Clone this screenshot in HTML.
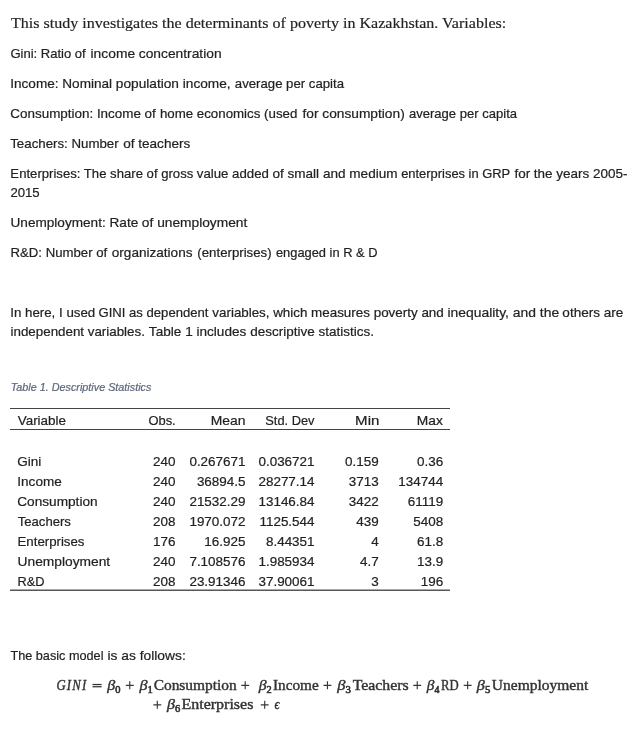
<!DOCTYPE html>
<html><head><meta charset="utf-8"><title>Determinants of poverty in Kazakhstan</title>
<style>
html,body{margin:0;padding:0;background:#fff;}
body{width:642px;height:744px;position:relative;overflow:hidden;color:#222;}
#pg{position:absolute;left:0;top:0;width:642px;height:744px;will-change:transform;}
.t{position:absolute;left:0;white-space:nowrap;line-height:20px;height:20px;transform-origin:0 0;}
.wc{will-change:transform;}
.sans{font-family:"Liberation Sans", sans-serif;font-size:13px;-webkit-text-stroke:0.2px currentColor;}
.serif{font-family:"Liberation Serif", serif;font-size:16px;}
.s1{font-size:15.6px;-webkit-text-stroke:0.18px currentColor;}
.cap{font-size:10px;font-style:italic;color:#5b677c;-webkit-text-stroke:0.2px currentColor;}
.eq{font-size:14.5px;color:#333;-webkit-text-stroke:0.4px currentColor;}
.eq i{font-style:italic;}
.sb{font-size:9.5px;-webkit-text-stroke:0.6px currentColor;position:relative;top:2.6px;font-style:normal;}
.hl{position:absolute;left:10px;width:440.4px;height:1px;background:#444;}

</style></head><body><div id="pg">
<div class="t serif s1" id="l1" style="top:13px;transform:translateX(10.99px) scaleX(1.0290);">This study investigates the determinants of poverty in Kazakhstan. Variables:</div>
<div class="t sans" id="l2a" style="top:44px;transform:translateX(10.38px) scaleX(1.0024);">Gini: Ratio of</div>
<div class="t sans" id="l2b" style="top:44px;transform:translateX(90.55px) scaleX(1.0631);">income</div>
<div class="t sans" id="l2c" style="top:44px;transform:translateX(138.78px) scaleX(1.0607);">concentration</div>
<div class="t sans" id="l3a" style="top:74px;transform:translateX(10.26px) scaleX(1.0437);">Income: Nominal</div>
<div class="t sans" id="l3b" style="top:74px;transform:translateX(115.84px) scaleX(1.0517);">population income,</div>
<div class="t sans" id="l3c" style="top:74px;transform:translateX(234.84px) scaleX(1.0137);">average per capita</div>
<div class="t sans" id="l4a" style="top:104px;transform:translateX(10.36px) scaleX(1.0323);">Consumption: Income of</div>
<div class="t sans" id="l4b" style="top:104px;transform:translateX(159.88px) scaleX(1.0226);">home economics (used</div>
<div class="t sans" id="l4c" style="top:104px;transform:translateX(302.43px) scaleX(1.0565);">for consumption)</div>
<div class="t sans" id="l4d" style="top:104px;transform:translateX(408.94px) scaleX(1.0040);">average per capita</div>
<div class="t sans" id="l5a" style="top:134px;transform:translateX(10.24px) scaleX(1.0206);">Teachers: Number</div>
<div class="t sans" id="l5b" style="top:134px;transform:translateX(123.16px) scaleX(1.0439);">of teachers</div>
<div class="t sans" id="l6a" style="top:164px;transform:translateX(10.37px) scaleX(1.0100);">Enterprises: The share of gross</div>
<div class="t sans" id="l6b" style="top:164px;transform:translateX(196.81px) scaleX(1.0179);">value added</div>
<div class="t sans" id="l6c" style="top:164px;transform:translateX(272.42px) scaleX(1.0430);">of small and medium</div>
<div class="t sans" id="l6d" style="top:164px;transform:translateX(401.17px) scaleX(0.9930);">enterprises in GRP</div>
<div class="t sans" id="l6e" style="top:164px;transform:translateX(514.42px) scaleX(1.0356);">for the years 2005-</div>
<div class="t sans" id="l7" style="top:183px;transform:translateX(10.38px) scaleX(1.0134);">2015</div>
<div class="t sans" id="l8a" style="top:213px;transform:translateX(10.49px) scaleX(1.0463);">Unemployment: Rate</div>
<div class="t sans" id="l8b" style="top:213px;transform:translateX(141.87px) scaleX(1.0572);">of unemployment</div>
<div class="t sans" id="l9a" style="top:243px;transform:translateX(10.51px) scaleX(1.0142);">R&amp;D: Number of</div>
<div class="t sans" id="l9b" style="top:243px;transform:translateX(111.78px) scaleX(1.0438);">organizations</div>
<div class="t sans" id="l9c" style="top:243px;transform:translateX(197.33px) scaleX(1.0179);">(enterprises)</div>
<div class="t sans" id="l9d" style="top:243px;transform:translateX(275.92px) scaleX(0.9893);">engaged in R &amp; D</div>
<div class="t sans" id="l10a" style="top:303px;transform:translateX(10.25px) scaleX(1.0222);">In here, I used</div>
<div class="t sans" id="l10b" style="top:303px;transform:translateX(98.55px) scaleX(1.0069);">GINI as dependent</div>
<div class="t sans" id="l10c" style="top:303px;transform:translateX(212.37px) scaleX(1.0269);">variables, which</div>
<div class="t sans" id="l10d" style="top:303px;transform:translateX(311.02px) scaleX(1.0323);">measures poverty and</div>
<div class="t sans" id="l10e" style="top:303px;transform:translateX(447.46px) scaleX(1.0683);">inequality, and the</div>
<div class="t sans" id="l10f" style="top:303px;transform:translateX(562.35px) scaleX(1.0423);">others are</div>
<div class="t sans" id="l11a" style="top:322px;transform:translateX(10.53px) scaleX(1.0271);">independent variables.</div>
<div class="t sans" id="l11b" style="top:322px;transform:translateX(148.87px) scaleX(1.0454);">Table 1 includes</div>
<div class="t sans" id="l11c" style="top:322px;transform:translateX(250.14px) scaleX(1.0381);">descriptive statistics.</div>
<div class="t sans" id="l12a" style="top:646px;transform:translateX(10.47px) scaleX(0.9748);">The basic model</div>
<div class="t sans" id="l12b" style="top:646px;transform:translateX(107.46px) scaleX(1.0621);">is as follows:</div>
<div class="t sans cap" id="cap" style="top:378px;transform:translateX(10.67px) scaleX(1.0803);">Table 1. Descriptive Statistics</div>
<div class="t serif eq" id="e1" style="top:675px;transform:translateX(56.47px) scaleX(0.8757);"><i style="letter-spacing:1.4px">GINI</i></div>
<div class="t serif eq" id="e3" style="top:675px;transform:translateX(107.36px) scaleX(1.0988);"><i>&beta;</i><span class="sb">0</span></div>
<div class="t serif eq" id="e5" style="top:675px;transform:translateX(139.39px) scaleX(1.1080);"><i>&beta;</i><span class="sb">1</span></div>
<div class="t serif eq" id="e6" style="top:675px;transform:translateX(153.63px) scaleX(1.0642);">Consumption</div>
<div class="t serif eq" id="e8" style="top:675px;transform:translateX(258.68px) scaleX(1.0847);"><i>&beta;</i><span class="sb">2</span></div>
<div class="t serif eq" id="e9" style="top:675px;transform:translateX(272.93px) scaleX(1.0531);">Income</div>
<div class="t serif eq" id="e11" style="top:675px;transform:translateX(337.23px) scaleX(1.1319);"><i>&beta;</i><span class="sb">3</span></div>
<div class="t serif eq" id="e12" style="top:675px;transform:translateX(352.64px) scaleX(1.0902);">Teachers</div>
<div class="t serif eq" id="e14" style="top:675px;transform:translateX(426.83px) scaleX(1.0531);"><i>&beta;</i><span class="sb">4</span></div>
<div class="t serif eq" id="e15" style="top:675px;transform:translateX(440.91px) scaleX(0.8766);">RD</div>
<div class="t serif eq" id="e17" style="top:675px;transform:translateX(476.84px) scaleX(1.1192);"><i>&beta;</i><span class="sb">5</span></div>
<div class="t serif eq" id="e18" style="top:675px;transform:translateX(491.84px) scaleX(1.0695);">Unemployment</div>
<div class="t serif eq" id="f2" style="top:694px;transform:translateX(167.03px) scaleX(1.1026);"><i>&beta;</i><span class="sb">6</span></div>
<div class="t serif eq" id="f3" style="top:694px;transform:translateX(181.42px) scaleX(1.1034);">Enterprises</div>
<div class="t serif eq" id="f5" style="top:694px;transform:translateX(274.41px) scaleX(0.8600);"><i>&#x3f5;</i></div>
<div class="t sans" id="c0_0" style="top:411px;transform:translateX(17.69px) scaleX(1.0342);">Variable</div>
<div class="t sans" id="c0_1" style="top:411px;transform:translateX(148.43px) scaleX(0.9930);">Obs.</div>
<div class="t sans" id="c0_2" style="top:411px;transform:translateX(210.75px) scaleX(1.0689);">Mean</div>
<div class="t sans" id="c0_3" style="top:411px;transform:translateX(265.31px) scaleX(0.9863);">Std. Dev</div>
<div class="t sans" id="c0_4" style="top:411px;transform:translateX(355.10px) scaleX(1.1571);">Min</div>
<div class="t sans" id="c0_5" style="top:411px;transform:translateX(416.85px) scaleX(1.0593);">Max</div>
<div class="t sans" id="c1_0" style="top:452px;transform:translateX(17.26px) scaleX(1.0419);">Gini</div>
<div class="t sans" id="c1_1" style="top:452px;width:175px;text-align:right;transform-origin:100% 0;transform:translateX(0.48px) scaleX(1.0340);">240</div>
<div class="t sans" id="c1_2" style="top:452px;width:245px;text-align:right;transform-origin:100% 0;transform:translateX(0.48px) scaleX(1.0340);">0.267671</div>
<div class="t sans" id="c1_3" style="top:452px;width:314px;text-align:right;transform-origin:100% 0;transform:translateX(0.54px) scaleX(1.0340);">0.036721</div>
<div class="t sans" id="c1_4" style="top:452px;width:378px;text-align:right;transform-origin:100% 0;transform:translateX(0.68px) scaleX(1.0340);">0.159</div>
<div class="t sans" id="c1_5" style="top:452px;width:443px;text-align:right;transform-origin:100% 0;transform:translateX(0.20px) scaleX(1.0340);">0.36</div>
<div class="t sans" id="c2_0" style="top:472px;transform:translateX(17.31px) scaleX(1.0422);">Income</div>
<div class="t sans" id="c2_1" style="top:472px;width:175px;text-align:right;transform-origin:100% 0;transform:translateX(0.48px) scaleX(1.0340);">240</div>
<div class="t sans" id="c2_2" style="top:472px;width:245px;text-align:right;transform-origin:100% 0;transform:translateX(0.48px) scaleX(1.0340);">36894.5</div>
<div class="t sans" id="c2_3" style="top:472px;width:314px;text-align:right;transform-origin:100% 0;transform:translateX(0.54px) scaleX(1.0340);">28277.14</div>
<div class="t sans" id="c2_4" style="top:472px;width:378px;text-align:right;transform-origin:100% 0;transform:translateX(0.68px) scaleX(1.0340);">3713</div>
<div class="t sans" id="c2_5" style="top:472px;width:443px;text-align:right;transform-origin:100% 0;transform:translateX(0.20px) scaleX(1.0340);">134744</div>
<div class="t sans" id="c3_0" style="top:492px;transform:translateX(17.27px) scaleX(1.0486);">Consumption</div>
<div class="t sans" id="c3_1" style="top:492px;width:175px;text-align:right;transform-origin:100% 0;transform:translateX(0.48px) scaleX(1.0340);">240</div>
<div class="t sans" id="c3_2" style="top:492px;width:245px;text-align:right;transform-origin:100% 0;transform:translateX(0.48px) scaleX(1.0340);">21532.29</div>
<div class="t sans" id="c3_3" style="top:492px;width:314px;text-align:right;transform-origin:100% 0;transform:translateX(0.54px) scaleX(1.0340);">13146.84</div>
<div class="t sans" id="c3_4" style="top:492px;width:378px;text-align:right;transform-origin:100% 0;transform:translateX(0.68px) scaleX(1.0340);">3422</div>
<div class="t sans" id="c3_5" style="top:492px;width:443px;text-align:right;transform-origin:100% 0;transform:translateX(0.20px) scaleX(1.0340);">61119</div>
<div class="t sans" id="c4_0" style="top:512px;transform:translateX(17.65px) scaleX(1.0098);">Teachers</div>
<div class="t sans" id="c4_1" style="top:512px;width:175px;text-align:right;transform-origin:100% 0;transform:translateX(0.48px) scaleX(1.0340);">208</div>
<div class="t sans" id="c4_2" style="top:512px;width:245px;text-align:right;transform-origin:100% 0;transform:translateX(0.48px) scaleX(1.0340);">1970.072</div>
<div class="t sans" id="c4_3" style="top:512px;width:314px;text-align:right;transform-origin:100% 0;transform:translateX(0.54px) scaleX(1.0340);">1125.544</div>
<div class="t sans" id="c4_4" style="top:512px;width:378px;text-align:right;transform-origin:100% 0;transform:translateX(0.68px) scaleX(1.0340);">439</div>
<div class="t sans" id="c4_5" style="top:512px;width:443px;text-align:right;transform-origin:100% 0;transform:translateX(0.20px) scaleX(1.0340);">5408</div>
<div class="t sans" id="c5_0" style="top:532px;transform:translateX(17.51px) scaleX(1.0181);">Enterprises</div>
<div class="t sans" id="c5_1" style="top:532px;width:175px;text-align:right;transform-origin:100% 0;transform:translateX(0.48px) scaleX(1.0340);">176</div>
<div class="t sans" id="c5_2" style="top:532px;width:245px;text-align:right;transform-origin:100% 0;transform:translateX(0.48px) scaleX(1.0340);">16.925</div>
<div class="t sans" id="c5_3" style="top:532px;width:314px;text-align:right;transform-origin:100% 0;transform:translateX(0.54px) scaleX(1.0340);">8.44351</div>
<div class="t sans" id="c5_4" style="top:532px;width:378px;text-align:right;transform-origin:100% 0;transform:translateX(0.68px) scaleX(1.0340);">4</div>
<div class="t sans" id="c5_5" style="top:532px;width:443px;text-align:right;transform-origin:100% 0;transform:translateX(0.20px) scaleX(1.0340);">61.8</div>
<div class="t sans" id="c6_0" style="top:552px;transform:translateX(17.52px) scaleX(1.0599);">Unemployment</div>
<div class="t sans" id="c6_1" style="top:552px;width:175px;text-align:right;transform-origin:100% 0;transform:translateX(0.48px) scaleX(1.0340);">240</div>
<div class="t sans" id="c6_2" style="top:552px;width:245px;text-align:right;transform-origin:100% 0;transform:translateX(0.48px) scaleX(1.0340);">7.108576</div>
<div class="t sans" id="c6_3" style="top:552px;width:314px;text-align:right;transform-origin:100% 0;transform:translateX(0.54px) scaleX(1.0340);">1.985934</div>
<div class="t sans" id="c6_4" style="top:552px;width:378px;text-align:right;transform-origin:100% 0;transform:translateX(0.68px) scaleX(1.0340);">4.7</div>
<div class="t sans" id="c6_5" style="top:552px;width:443px;text-align:right;transform-origin:100% 0;transform:translateX(0.20px) scaleX(1.0340);">13.9</div>
<div class="t sans" id="c7_0" style="top:572px;transform:translateX(17.55px) scaleX(0.9836);">R&amp;D</div>
<div class="t sans" id="c7_1" style="top:572px;width:175px;text-align:right;transform-origin:100% 0;transform:translateX(0.48px) scaleX(1.0340);">208</div>
<div class="t sans" id="c7_2" style="top:572px;width:245px;text-align:right;transform-origin:100% 0;transform:translateX(0.48px) scaleX(1.0340);">23.91346</div>
<div class="t sans" id="c7_3" style="top:572px;width:314px;text-align:right;transform-origin:100% 0;transform:translateX(0.54px) scaleX(1.0340);">37.90061</div>
<div class="t sans" id="c7_4" style="top:572px;width:378px;text-align:right;transform-origin:100% 0;transform:translateX(0.68px) scaleX(1.0340);">3</div>
<div class="t sans" id="c7_5" style="top:572px;width:443px;text-align:right;transform-origin:100% 0;transform:translateX(0.20px) scaleX(1.0340);">196</div>
<svg class="eqs" width="12" height="6" viewBox="0 0 12 6" style="position:absolute;left:91px;top:682px;"><rect x="1.5" y="1.9" width="9.1" height="1.25" fill="#333"/><rect x="1.5" y="4.1" width="9.1" height="1.25" fill="#333"/></svg>
<svg width="12" height="12" viewBox="0 0 12 12" style="position:absolute;left:123px;top:679px;"><path d="M2.80 6.30h7.90M6.75 2.35v7.90" stroke="#383838" stroke-width="1.15" fill="none"/></svg>
<svg width="12" height="12" viewBox="0 0 12 12" style="position:absolute;left:239px;top:679px;"><path d="M2.25 6.30h7.90M6.20 2.35v7.90" stroke="#383838" stroke-width="1.15" fill="none"/></svg>
<svg width="12" height="12" viewBox="0 0 12 12" style="position:absolute;left:321px;top:679px;"><path d="M2.50 6.30h7.90M6.45 2.35v7.90" stroke="#383838" stroke-width="1.15" fill="none"/></svg>
<svg width="12" height="12" viewBox="0 0 12 12" style="position:absolute;left:411px;top:679px;"><path d="M2.30 6.30h7.90M6.25 2.35v7.90" stroke="#383838" stroke-width="1.15" fill="none"/></svg>
<svg width="12" height="12" viewBox="0 0 12 12" style="position:absolute;left:461px;top:679px;"><path d="M2.70 6.30h7.90M6.65 2.35v7.90" stroke="#383838" stroke-width="1.15" fill="none"/></svg>
<svg width="12" height="12" viewBox="0 0 12 12" style="position:absolute;left:151px;top:698px;"><path d="M2.35 6.80h7.90M6.30 2.85v7.90" stroke="#383838" stroke-width="1.15" fill="none"/></svg>
<svg width="12" height="12" viewBox="0 0 12 12" style="position:absolute;left:258px;top:698px;"><path d="M2.75 6.80h7.90M6.70 2.85v7.90" stroke="#383838" stroke-width="1.15" fill="none"/></svg>
<div class="hl" style="top:408px;"></div>
<div class="hl" style="top:429px;"></div>
<div class="hl" style="top:589px;background:#a8a8a8;"></div>
<div class="hl" style="top:590px;background:#585858;"></div>
</div></body></html>
